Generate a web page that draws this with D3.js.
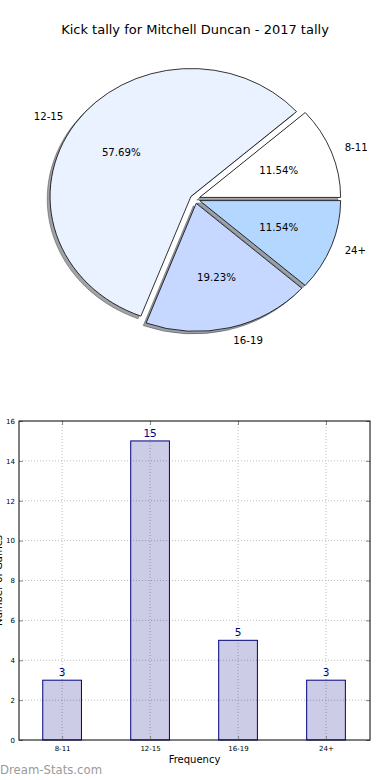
<!DOCTYPE html>
<html>
<head>
<meta charset="utf-8">
<script src="https://cdn.jsdelivr.net/npm/d3@7"></script>
<style>
  body { margin: 0; background: #fff; }
  svg { display: block; font-family: "DejaVu Sans", sans-serif; }
</style>
</head>
<body>
<svg id="chart" width="390" height="780"></svg>
<script>
// data
var categories = ["8-11", "12-15", "16-19", "24+"];
var counts = [3, 15, 5, 3];
var pieColors = ["#ffffff", "#eaf1ff", "#c6d8ff", "#b3d7ff"];
var yTicks = [0, 2, 4, 6, 8, 10, 12, 14, 16];
var titleText = "Kick tally for Mitchell Duncan - 2017 tally";

var svg = d3.select("#chart");
var total = d3.sum(counts);

// title
svg.append("text")
    .attr("x", 195).attr("y", 34)
    .attr("text-anchor", "middle")
    .style("font-size", "13px")
    .text(titleText);

// ---------- pie (elliptical, matplotlib style) ----------
var cx = 195, cy = 199, rx = 141, ry = 128;
var explode = 0.035;

var pie = d3.pie().sort(null)
    .startAngle(Math.PI / 2)
    .endAngle(Math.PI / 2 - 2 * Math.PI); // counter-clockwise from 3 o'clock
var arcs = pie(counts);
var arc = d3.arc().innerRadius(0).outerRadius(1);

function offsetOf(d) {
  var m = (d.startAngle + d.endAngle) / 2;
  return [Math.sin(m), -Math.cos(m)];
}
function shade(c) {
  var col = d3.rgb(c);
  return d3.rgb(col.r * 0.3, col.g * 0.3, col.b * 0.3).toString();
}

var pieG = svg.append("g");

// shadows first
pieG.selectAll(".shadow")
    .data(arcs)
  .enter().append("path")
    .attr("class", "shadow")
    .attr("transform", function(d) {
      var o = offsetOf(d);
      return "translate(" + (cx + (o[0] * explode - 0.02) * rx) + "," + (cy + (o[1] * explode + 0.02) * ry) + ") scale(" + rx + "," + ry + ")";
    })
    .attr("d", arc)
    .attr("fill", function(d, i) { return shade(pieColors[i]); })
    .attr("stroke", function(d, i) { return shade(pieColors[i]); })
    .attr("fill-opacity", 0.5)
    .attr("stroke-opacity", 0.5)
    .attr("stroke-width", 1)
    .attr("vector-effect", "non-scaling-stroke");

pieG.selectAll(".wedge")
    .data(arcs)
  .enter().append("path")
    .attr("class", "wedge")
    .attr("transform", function(d) {
      var o = offsetOf(d);
      return "translate(" + (cx + o[0] * explode * rx) + "," + (cy + o[1] * explode * ry) + ") scale(" + rx + "," + ry + ")";
    })
    .attr("d", arc)
    .attr("fill", function(d, i) { return pieColors[i]; })
    .attr("stroke", "#000")
    .attr("stroke-width", 0.8)
    .attr("vector-effect", "non-scaling-stroke");

// percentage labels
pieG.selectAll(".pct")
    .data(arcs)
  .enter().append("text")
    .attr("class", "pct")
    .attr("x", function(d) { var o = offsetOf(d); return cx + o[0] * (explode + 0.6) * rx; })
    .attr("y", function(d) { var o = offsetOf(d); return cy + o[1] * (explode + 0.6) * ry; })
    .attr("dy", "0.35em")
    .attr("text-anchor", "middle")
    .style("font-size", "10.2px")
    .text(function(d) { return (d.value / total * 100).toFixed(2) + "%"; });

// category labels
pieG.selectAll(".lbl")
    .data(arcs)
  .enter().append("text")
    .attr("class", "lbl")
    .attr("x", function(d) { var o = offsetOf(d); return cx + o[0] * (explode + 1.1) * rx; })
    .attr("y", function(d) { var o = offsetOf(d); return cy + o[1] * (explode + 1.1) * ry; })
    .attr("dy", "0.35em")
    .attr("text-anchor", function(d) { return offsetOf(d)[0] < 0 ? "end" : "start"; })
    .style("font-size", "10.2px")
    .text(function(d, i) { return categories[i]; });

// ---------- bar chart ----------
var plotLeft = 19, plotRight = 370, plotTop = 421, plotBottom = 740;
var x = d3.scaleLinear().domain([-0.49, 3.5]).range([plotLeft, plotRight]);
var y = d3.scaleLinear().domain([0, 16]).range([plotBottom, plotTop]);
var barW = x(0.44) - x(0);

var barG = svg.append("g");

// grid
barG.selectAll(".hgrid")
    .data(yTicks.slice(1, -1))
  .enter().append("line")
    .attr("x1", plotLeft).attr("x2", plotRight)
    .attr("y1", function(d) { return y(d); })
    .attr("y2", function(d) { return y(d); })
    .attr("stroke", "#bdbdbd")
    .attr("stroke-dasharray", "1,2");
barG.selectAll(".vgrid")
    .data(categories)
  .enter().append("line")
    .attr("x1", function(d, i) { return x(i); })
    .attr("x2", function(d, i) { return x(i); })
    .attr("y1", plotTop).attr("y2", plotBottom)
    .attr("stroke", "#bdbdbd")
    .attr("stroke-dasharray", "1,2");

// bars
barG.selectAll(".bar")
    .data(counts)
  .enter().append("rect")
    .attr("class", "bar")
    .attr("x", function(d, i) { return x(i) - barW / 2; })
    .attr("y", function(d) { return y(d); })
    .attr("width", barW)
    .attr("height", function(d) { return plotBottom - y(d); })
    .attr("fill", "#000080")
    .attr("fill-opacity", 0.2)
    .attr("stroke", "#000080")
    .attr("stroke-width", 1);

barG.selectAll(".val")
    .data(counts)
  .enter().append("text")
    .attr("x", function(d, i) { return x(i); })
    .attr("y", function(d) { return y(d) - 4; })
    .attr("text-anchor", "middle")
    .attr("fill", "#000080")
    .style("font-size", "10.5px")
    .text(function(d) { return d; });

// axes with inward ticks
var yAxis = d3.axisLeft(y).tickValues(yTicks).tickSizeInner(-4).tickSizeOuter(0).tickPadding(4);
var xAxis = d3.axisBottom(x).tickValues([0, 1, 2, 3])
    .tickFormat(function(d) { return categories[d]; })
    .tickSizeInner(-4).tickSizeOuter(0).tickPadding(6);

barG.append("g").attr("transform", "translate(" + plotLeft + ",0)").call(yAxis);
barG.append("g").attr("transform", "translate(0," + plotBottom + ")").call(xAxis);
barG.append("g").attr("transform", "translate(" + plotRight + ",0)")
    .call(d3.axisRight(y).tickValues(yTicks).tickSizeInner(-4).tickSizeOuter(0).tickFormat(""));
barG.append("g").attr("transform", "translate(0," + plotTop + ")")
    .call(d3.axisTop(x).tickValues([0, 1, 2, 3]).tickSizeInner(-4).tickSizeOuter(0).tickFormat(""));

barG.selectAll(".domain").remove();
barG.selectAll(".tick line").attr("stroke", "#888");
barG.selectAll(".tick text").style("font-size", "7px").attr("fill", "#000").style("font-family", "DejaVu Sans");

// frame
barG.append("rect")
    .attr("x", plotLeft).attr("y", plotTop)
    .attr("width", plotRight - plotLeft).attr("height", plotBottom - plotTop)
    .attr("fill", "none").attr("stroke", "#000").attr("stroke-width", 1);

// axis labels
svg.append("text")
    .attr("x", (plotLeft + plotRight) / 2).attr("y", 763)
    .attr("text-anchor", "middle")
    .style("font-size", "10px")
    .text("Frequency");
// y label sits mostly off the left edge, as in the reference
svg.append("text")
    .attr("transform", "translate(1.5," + (plotTop + plotBottom) / 2 + ") rotate(-90)")
    .attr("text-anchor", "middle")
    .style("font-size", "10px")
    .text("Number of Games");

// watermark
svg.append("text")
    .attr("x", 0).attr("y", 774)
    .attr("fill", "#9a9a9a")
    .style("font-size", "11.7px")
    .text("Dream-Stats.com");
</script>
</body>
</html>
